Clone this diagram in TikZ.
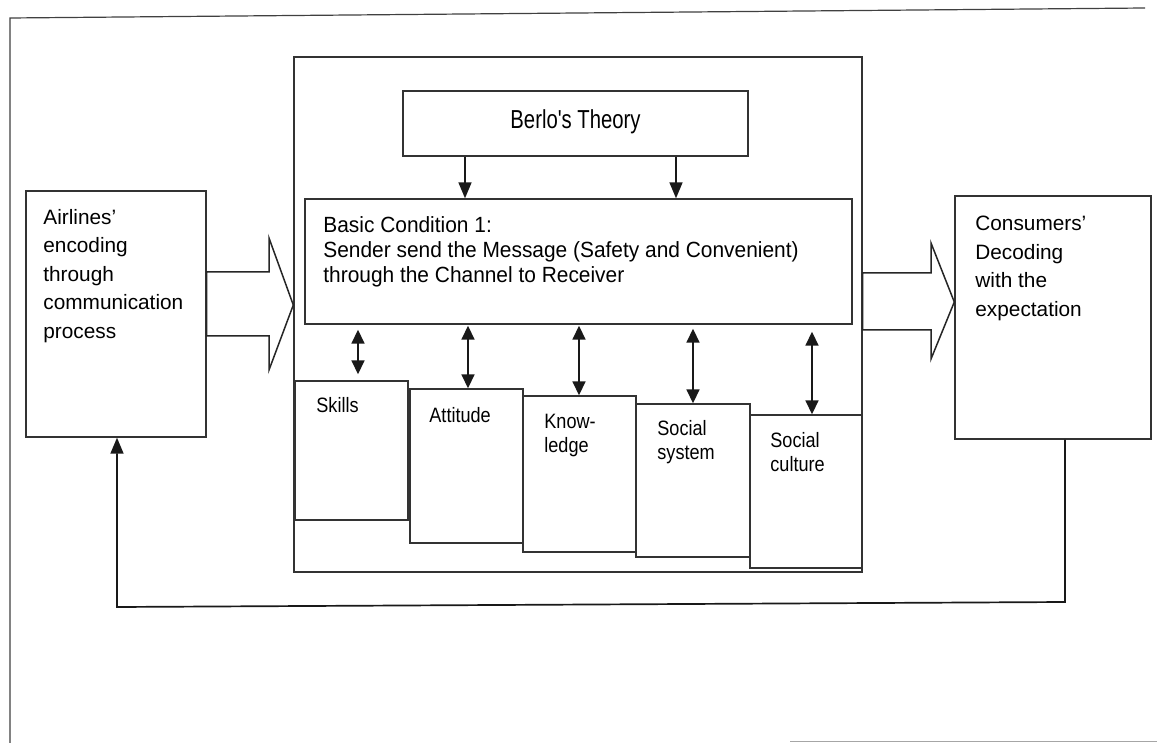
\documentclass[tikz,border=0pt]{standalone}
\usepackage{fontspec}
\setmainfont{Liberation Sans}
\newfontfamily\berlofont[FakeStretch=0.78]{Liberation Sans}
\newfontfamily\basicfont[FakeStretch=0.95]{Liberation Sans}
\newfontfamily\factfont[FakeStretch=0.87]{Liberation Sans}
\usetikzlibrary{fit,arrows.meta}
\begin{document}
\begin{tikzpicture}[x=0.5pt,y=-0.5pt,
  box/.style={draw=black!80,line width=0.7pt,inner sep=0pt,fill=white},
  txt/.style={anchor=north west,inner sep=0pt,align=left},
  side/.style={txt,font=\fontsize{10.4}{14.2}\selectfont},
  fact/.style={txt,font=\factfont\fontsize{10.4}{12}\selectfont},
  arr/.style={draw=black!90,line width=0.85pt,-{Triangle[length=8pt,width=6.5pt]}},
  dbl/.style={draw=black!90,line width=0.85pt,{Triangle[length=7pt,width=6.5pt]}-{Triangle[length=7pt,width=6.5pt]}},
  blk/.style={draw=black!85,line width=0.75pt,line join=miter,fill=white},
  frameline/.style={draw=black!75,line width=0.6pt},
]
\fill[white] (0,0) rectangle (1157,743);
\useasboundingbox (0,0) rectangle (1157,743);

% outer page frame
\draw[frameline] (10,743) -- (10,18) -- (1145,8);
\draw[draw=black!35,line width=0.5pt] (790,741) -- (1157,741);

% central frame
\node[box,fit={(294,57) (862,572)}] (frame) {};

% Berlo's theory
\node[box,fit={(403,91) (748,156)}] (berlo) {};
\node[inner sep=0pt,font=\berlofont\fontsize{13}{15}\selectfont] (berlotxt) at (575.5,122) {Berlo's Theory};

% basic condition
\node[box,fit={(305,199) (852,324)}] (basic) {};
\node[txt,font=\basicfont\fontsize{11}{12.6}\selectfont] (basictxt) at (323,216)
  {Basic Condition 1:\\Sender send the Message (Safety and Convenient)\\through the Channel to Receiver};

% left and right boxes
\node[box,fit={(26,191) (206,437)}] (air) {};
\node[side] (airtxt) at (43,209) {Airlines'\\encoding\\through\\communication\\process};
\node[box,fit={(955,196) (1151,439)}] (cons) {};
\node[side] (constxt) at (975,216) {Consumers'\\Decoding\\with the\\expectation};

% factor boxes
\node[box,fit={(295,381) (408,520)}] (skills) {};
\node[box,fit={(410,389) (523,543)}] (att) {};
\node[box,fit={(523,396) (636,552)}] (know) {};
\node[box,fit={(636,404) (750,557)}] (socsys) {};
\node[box,fit={(750,415) (862,568)}] (soccul) {};
\node[fact] (skillstxt) at (316,397) {Skills};
\node[fact] (atttxt) at (429,407) {Attitude};
\node[fact] (knowtxt) at (544,414) {Know-\\ledge};
\node[fact] (socsystxt) at (657,420) {Social\\system};
\node[fact] (soccultxt) at (770,432) {Social\\culture};

% arrows from Berlo
\draw[arr] (berlo.south -| 465,0) -- (basic.north -| 465,0);
\draw[arr] (berlo.south -| 676,0) -- (basic.north -| 676,0);

% double arrows
\draw[dbl,shorten <=2.5pt,shorten >=3pt] (basic.south -| 358,0) -- (skills.north -| 358,0);
\draw[dbl,shorten <=0.5pt] (basic.south -| 468,0) -- (att.north -| 468,0);
\draw[dbl,shorten <=0.5pt] (basic.south -| 579,0) -- (know.north -| 579,0);
\draw[dbl,shorten <=2pt] (basic.south -| 693,0) -- (socsys.north -| 693,0);
\draw[dbl,shorten <=3.5pt] (basic.south -| 812,0) -- (soccul.north -| 812,0);

% block arrows
\draw[blk] (air.east |- 0,272) -- (269,272) -- (269,238) -- (frame.west |- 0,305)
  -- (269,370) -- (269,336) -- (air.east |- 0,336) -- cycle;
\draw[blk] (frame.east |- 0,273) -- (931,273) -- (931,243) -- (cons.west |- 0,302)
  -- (931,359) -- (931,330) -- (frame.east |- 0,330) -- cycle;

% feedback loop
\coordinate (fbR) at (1065,602);
\coordinate (fbL) at (117,607);
\draw[arr] (cons.south -| fbR) -- (fbR) -- (fbL) -- (air.south -| fbL);
\end{tikzpicture}
\end{document}
